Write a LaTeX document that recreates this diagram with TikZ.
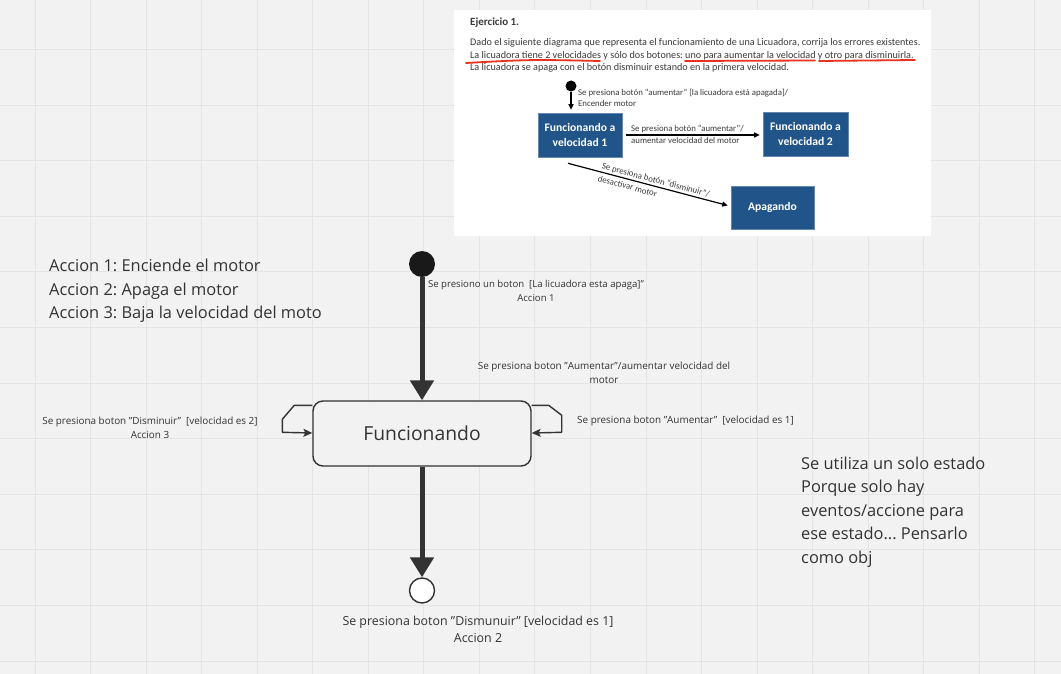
\documentclass[tikz,border=0pt]{standalone}
\usepackage{fontspec}
\setmainfont{Open Sans}
\newfontfamily\docfont{Carlito}
\usetikzlibrary{arrows.meta,calc}
\definecolor{bg}{HTML}{F2F2F2}
\definecolor{gridc}{HTML}{E4E4E4}
\definecolor{ink}{HTML}{333333}
\definecolor{docink}{HTML}{3A3A3A}
\definecolor{docblue}{HTML}{21558A}
\definecolor{redline}{HTML}{E8321E}
\frenchspacing
\begin{document}
\begin{tikzpicture}[x=1pt,y=-1pt,
  gridline/.style={draw=gridc, line width=1pt},
  lbl/.style={font=\fontsize{9.9}{14}\selectfont, text=ink, inner sep=0pt, align=center},
  big/.style={font=\fontsize{16.4}{23.4}\selectfont, text=ink, inner sep=0pt, align=left},
  bigarrow/.style={draw=ink, line width=5pt, -{Triangle[length=20pt,width=23pt]}},
  loop/.style={draw=ink, line width=1.4pt, line join=round, -{Stealth[length=9pt,width=8pt,inset=2pt]}},
  doctext/.style={font=\docfont\fontsize{10.15}{12.6}\selectfont, text=docink, inner sep=0pt, align=left},
  docsmall/.style={font=\docfont\fontsize{8.8}{10.5}\selectfont, text=docink, inner sep=0pt, align=left},
  docbox/.style={fill=docblue, draw=docblue!70!white, line width=0.6pt, text=white, font=\docfont\bfseries\fontsize{11.6}{15}\selectfont, align=center, inner sep=0pt},
  docarrow/.style={draw=black, line width=1.2pt, -{Triangle[length=5.5pt,width=5pt]}},
  redmark/.style={draw=redline, line width=1.8pt, line cap=round}
]
% background and grid
\fill[bg] (0,0) rectangle (1061,674);
\useasboundingbox (0,0) rectangle (1061,674);
\foreach \i in {0,...,18} \draw[gridline] ({35+55.55*\i},0) -- ({35+55.55*\i},674);
\foreach \j in {0,...,11} \draw[gridline] (0,{49.5+55.6*\j}) -- (1061,{49.5+55.6*\j});

% embedded exercise screenshot
\fill[white] (454,10) rectangle (931,236);
\node[doctext, anchor=west, font=\docfont\bfseries\fontsize{11}{13}\selectfont] (title) at (470,23) {Ejercicio 1.};
\node[doctext, anchor=west] (para) at (470,55.5) {Dado el siguiente diagrama que representa el funcionamiento de una Licuadora, corrija los errores existentes.\\La licuadora tiene 2 velocidades y sólo dos botones: uno para aumentar la velocidad y otro para disminuirla.\\La licuadora se apaga con el botón disminuir estando en la primera velocidad.};
\draw[redmark] (466,63) .. controls (530,59.5) .. (600,61);
\draw[redmark] (685,61) -- (815,60.5);
\draw[redmark] (819,61) -- (915,60);

\node[circle, fill=black, minimum size=11pt, inner sep=0pt] (dinit) at (571,86) {};
\node[docbox, minimum width=84pt, minimum height=44pt] (b1) at (580,135) {Funcionando a\\velocidad 1};
\node[docbox, minimum width=85pt, minimum height=44pt] (b2) at (805.5,134) {Funcionando a\\velocidad 2};
\node[docbox, minimum width=83pt, minimum height=43pt] (b3) at (772.5,207.5) {Apagando};
\draw[docarrow] (dinit) -- ($(b1.north)+(-9,-3)$);
\node[docsmall, anchor=west] (l0) at (578,98) {Se presiona botón “aumentar” [la licuadora está apagada]/\\Encender motor};
\draw[docarrow] ($(b1.east)+(4,0)$) -- ($(b2.west)+(-3,1)$);
\node[docsmall, anchor=west] (l1) at (631,129) {Se presiona botón “aumentar”/};
\node[docsmall, anchor=west] (l2) at (631,140.5) {aumentar velocidad del motor};
\draw[docarrow] ($(b1.south)+(-12,6)$) -- ($(b3.west)+(-3,-2)$);
\node[docsmall, anchor=west, rotate=-14.7] (l3) at (602,166.5) {Se presiona botón “disminuir”/};
\node[docsmall, anchor=west, rotate=-14.7] (l4) at (598,178.5) {desactivar motor};

% left notes
\node[big, anchor=west] (acciones) at (49,291) {Accion 1: Enciende el motor\\Accion 2: Apaga el motor\\Accion 3: Baja la velocidad del moto};

% right notes
\node[big, anchor=west] (nota) at (801,512) {Se utiliza un solo estado\\Porque solo hay\\eventos/accione para\\ese estado... Pensarlo\\como obj};

% state machine
\node[circle, fill=black!90, minimum size=26pt, inner sep=0pt] (init) at (422,264) {};
\node[draw=ink, line width=1.4pt, rounded corners=10pt, fill=bg, minimum width=218pt, minimum height=65pt, inner sep=0pt, font=\fontsize{19.3}{22}\selectfont, text=ink] (st) at (422,433.5) {Funcionando};
\node[circle, draw=ink, line width=1.4pt, fill=white, minimum size=25pt, inner sep=0pt] (fin) at (422,590.5) {};

\draw[bigarrow] (init) -- (st);
\draw[bigarrow] (st) -- (fin);

\draw[loop] ([yshift=-5pt]st.north west) -- ++(-18,0) -- ++(-12,14) -- ++(0,13) -- (st.west |- 0,433);
\draw[loop] ([yshift=-5pt]st.north east) -- ++(17,0) -- ++(13,10) -- ++(0,17) -- (st.east |- 0,433);

% transition labels
\node[lbl, font=\fontsize{9.6}{14}\selectfont] (t1) at (536,291) {Se presiono un boton~~[La licuadora esta apaga]"\\Accion 1};
\node[lbl] (t2) at (604,373) {Se presiona boton "Aumentar"/aumentar velocidad del\\motor};
\node[lbl] (t3) at (150,428) {Se presiona boton "Disminuir"~~[velocidad es 2]\\Accion 3};
\node[lbl, anchor=west] (t4) at (577,421) {Se presiona boton "Aumentar"~~[velocidad es 1]};
\node[lbl, font=\fontsize{12.4}{17}\selectfont] (t5) at (478,629.5) {Se presiona boton "Dismunuir" [velocidad es 1]\\Accion 2};
\end{tikzpicture}
\end{document}
